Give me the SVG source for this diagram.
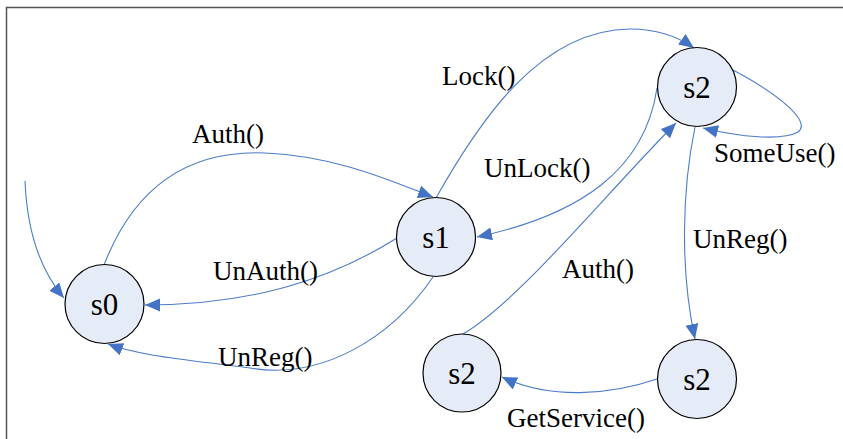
<svg xmlns="http://www.w3.org/2000/svg" width="843" height="439" viewBox="0 0 843 439">
<defs>
<marker id="ah" markerUnits="userSpaceOnUse" markerWidth="16" markerHeight="14" refX="15" refY="6.5" orient="auto">
<path d="M0,0 L15,6.5 L0,13 z" fill="#4472C4"/>
</marker>
<style>
.edge{fill:none;stroke:#4A7CC9;stroke-width:1.1;marker-end:url(#ah)}
.node circle{fill:#E6ECF7;stroke:#000;stroke-width:1.2}
.node text{font-family:"Liberation Serif","Times New Roman",serif;font-size:31px;text-anchor:middle;fill:#000}
.lbl{font-family:"Liberation Serif","Times New Roman",serif;font-size:27px;fill:#000}
</style>
</defs>
<rect width="843" height="439" fill="#fff"/>
<path d="M6.5,439 L6.5,7.5 L843,7.5" fill="none" stroke="#555" stroke-width="1.5"/>
<g id="connectors">
<path class="edge" d="M25,181 C27,230 40,270 64,298"/>
<path class="edge" d="M104,265 C135,185 190,150 265,153 C340,156 400,185 433,197"/>
<path class="edge" d="M436,198 C480,120 540,30 630,29 C660,29 680,38 694,48"/>
<path class="edge" d="M657,88 C645,170 580,215 477,237"/>
<path class="edge" d="M463,334 C520,300 600,200 676,123"/>
<path class="edge" d="M695,127 C682,190 680,270 695,339"/>
<path class="edge" d="M733,70 C780,95 812,122 798,132 C782,141 740,137 703,128"/>
<path class="edge" d="M397,238 C330,280 250,305 145,305"/>
<path class="edge" d="M433,277 C390,340 320,380 250,368 C190,360 140,356 108,344"/>
<path class="edge" d="M657,379 C610,395 550,400 502,377"/>
</g>
<g id="labels">
<text class="lbl" x="192" y="143">Auth()</text>
<text class="lbl" x="442" y="85">Lock()</text>
<text class="lbl" x="484" y="177">UnLock()</text>
<text class="lbl" x="562" y="278">Auth()</text>
<text class="lbl" x="693" y="248">UnReg()</text>
<text class="lbl" x="714" y="162">SomeUse()</text>
<text class="lbl" x="213" y="280">UnAuth()</text>
<text class="lbl" x="218" y="366">UnReg()</text>
<text class="lbl" x="507" y="427">GetService()</text>
</g>
<g id="s0" class="node"><circle cx="104.5" cy="304" r="39.5"/><text x="104.5" y="315">s0</text></g>
<g id="s1" class="node"><circle cx="436" cy="237" r="39.5"/><text x="436" y="248">s1</text></g>
<g id="s2_top" class="node"><circle cx="697" cy="87" r="39.5"/><text x="697" y="98">s2</text></g>
<g id="s2_bl" class="node"><circle cx="462" cy="373" r="39"/><text x="462" y="384">s2</text></g>
<g id="s2_br" class="node"><circle cx="697" cy="379" r="39.5"/><text x="697" y="390">s2</text></g>
</svg>
